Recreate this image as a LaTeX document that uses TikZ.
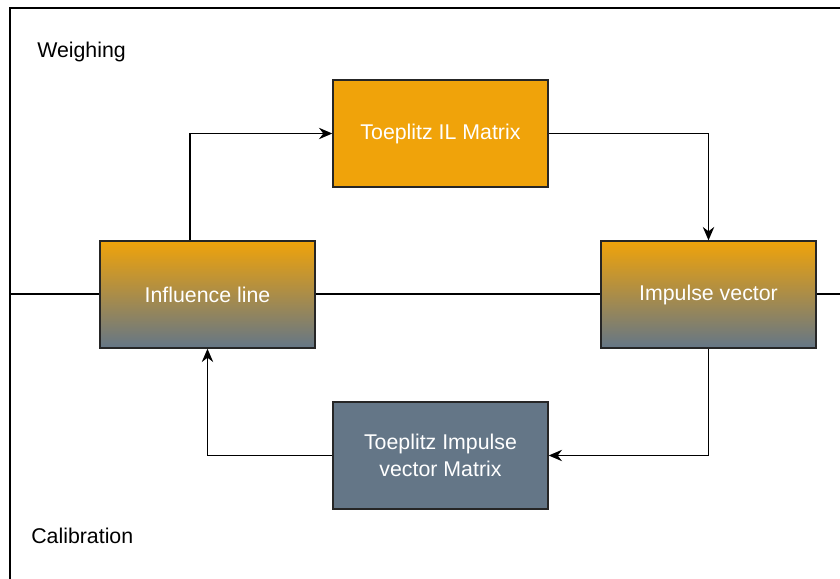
\documentclass[tikz,border=0pt]{standalone}
\usepackage{fontspec}
\setmainfont{Liberation Sans}
\usetikzlibrary{arrows.meta}

\definecolor{ilorange}{HTML}{F0A30A}
\definecolor{ilslate}{HTML}{647687}

\tikzset{
    block/.style={draw=black!85, line width=1pt, minimum width=161.25pt,
        minimum height=80.25pt, inner sep=0pt, text=white, align=center},
    gradblock/.style={block, top color=ilorange, bottom color=ilslate},
    link/.style={line width=1.3pt, -{Stealth[length=10pt,width=8.5pt]}},
    frame/.style={line width=1.2pt},
    modelabel/.style={anchor=west, inner sep=0pt}
}

\begin{document}
\begin{tikzpicture}[x=0.75pt,y=-0.75pt,font=\fontsize{16}{20}\selectfont]

\useasboundingbox (0,0) rectangle (840,579);

% --- Frame and the line between the two modes ---
\draw[frame] (10,579) -- (10,8) -- (840,8);
\coordinate (lft) at (10,294);
\coordinate (rgt) at (840,294);
\draw[frame] (lft) -- (rgt);

% Mode labels
\node[modelabel] (weigh) at (37,52) {Weighing};
\node[modelabel] (calib) at (31,536) {Calibration};

% --- Blocks ---
\node[gradblock] (infl) at (207.5,294.5) {Influence line};
\node[gradblock] (impv) at (708.5,294.5) {Impulse vector};
\node[block, fill=ilorange] (tilm) at (440.5,133.5) {Toeplitz IL Matrix};
\node[block, fill=ilslate] (tivm) at (440.5,455.5) {Toeplitz Impulse\\vector Matrix};

% --- Connectors ---
\draw[link] ([xshift=-13pt]infl.north) |- (tilm.west);
\draw[link] (tilm.east) -| (impv.north);
\draw[link] (impv.south) |- (tivm.east);
\draw[link] (tivm.west) -| (infl.south);

\end{tikzpicture}
\end{document}
